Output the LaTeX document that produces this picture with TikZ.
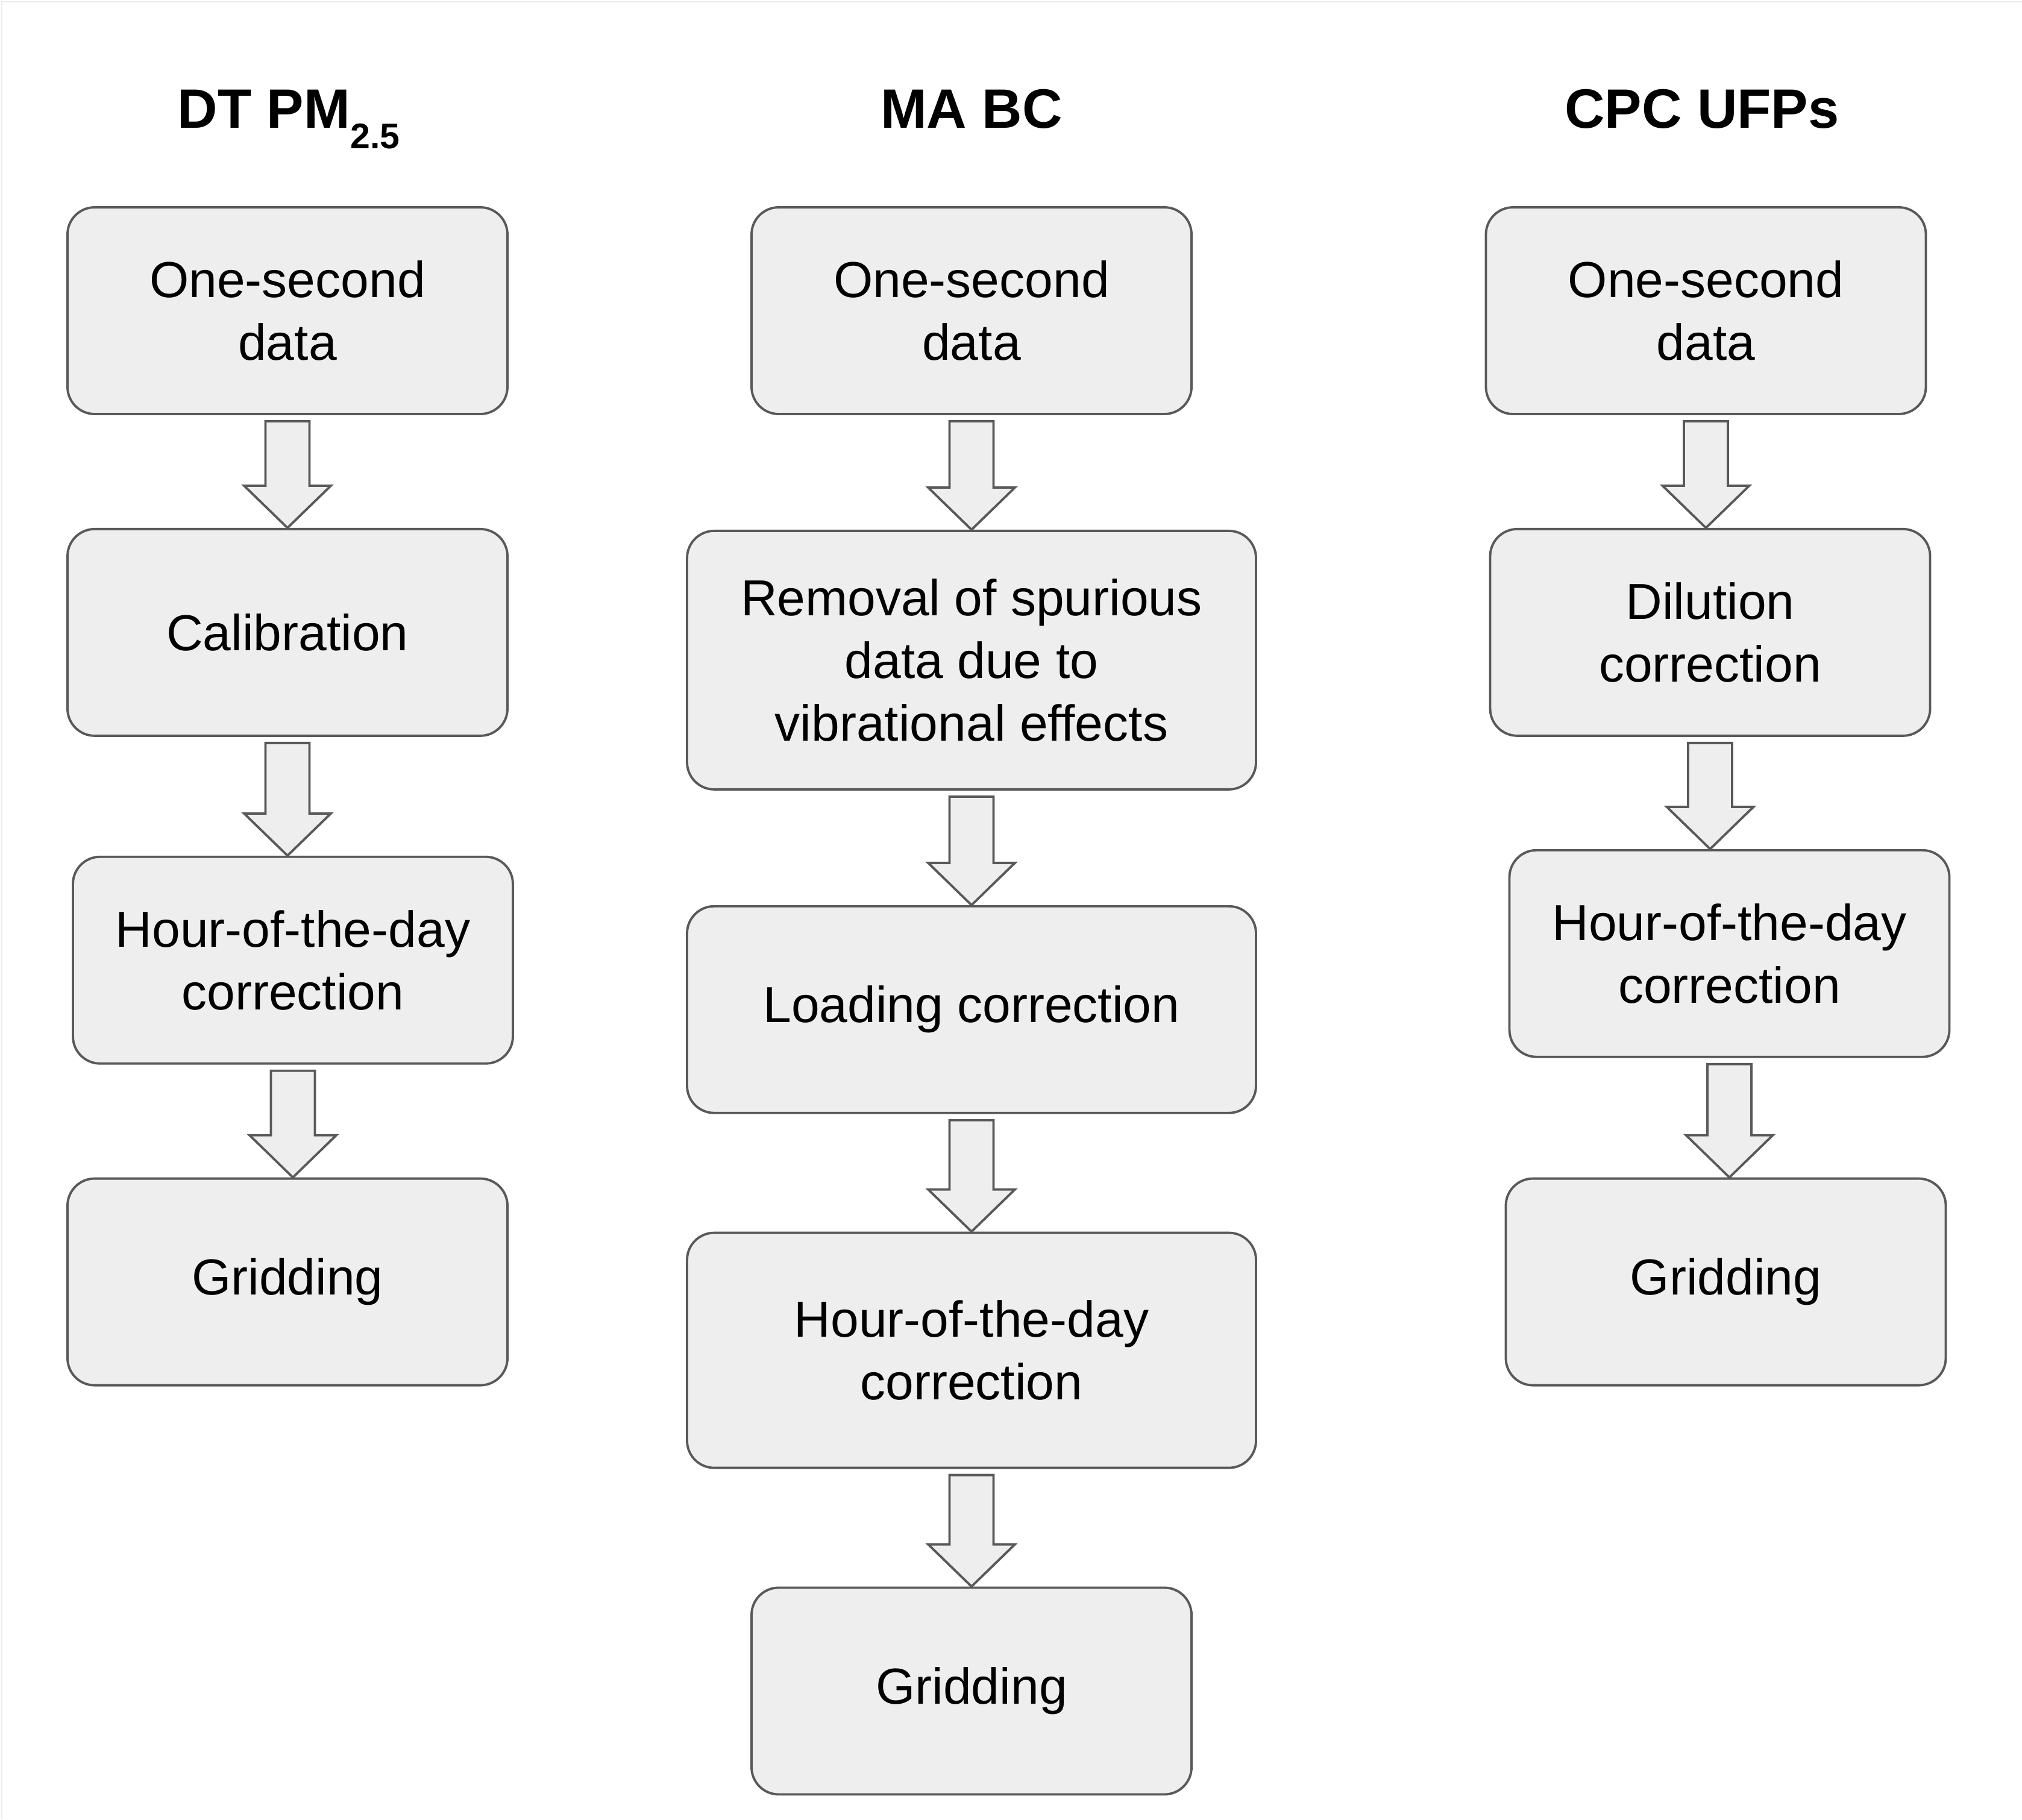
\documentclass[tikz,border=0pt]{standalone}
\usepackage{fontspec}
\setmainfont{Liberation Sans}
\usetikzlibrary{positioning,calc}
\definecolor{boxgray}{HTML}{EEEEEE}
\definecolor{linegray}{HTML}{595959}

\begin{document}
\begin{tikzpicture}[
stage/.style={rectangle,rounded corners=4.5mm,draw=linegray,fill=boxgray,line width=1.1pt,
  minimum width=7.3cm,minimum height=3.43cm,align=center,
  font=\fontsize{23.9}{29.6}\selectfont},
wide/.style={minimum width=9.44cm},
heading/.style={anchor=base,font=\bfseries\fontsize{26.2}{30}\selectfont},
flow/.style={draw=linegray,fill=boxgray,line width=1.1pt,
  to path={let \p1=(\tikztostart.south), \p2=(\tikztotarget.north) in
    (\x1-3.65mm,\y1-1mm) -- (\x1+3.65mm,\y1-1mm) -- (\x1+3.65mm,\y2+7mm)
    -- (\x1+7.2mm,\y2+7mm) -- (\x1,\y2) -- (\x1-7.2mm,\y2+7mm)
    -- (\x1-3.65mm,\y2+7mm) -- cycle}},
]
\useasboundingbox (0,0) rectangle (33.55,-30.19);
\draw[black!8,line width=0.6pt] (0.03,-30.19) -- (0.03,-0.03) -- (33.55,-0.03);

% headings
\node[heading] (tpm) at (4.79,-2.12) {DT PM\raisebox{-9.7pt}{\fontsize{16.8}{18}\selectfont 2.5}};
\node[heading] (tbc) at (16.12,-2.12) {MA BC};
\node[heading] (tufp) at (28.24,-2.12) {CPC UFPs};

% DT PM2.5
\node[stage] (a1) at (4.77,-5.155) {One-second\\data};
\node[stage,below=1.87cm of a1] (a2) {Calibration};
\node[stage,below=1.97cm of a2,xshift=0.09cm] (a3) {Hour-of-the-day\\correction};
\node[stage,below=1.87cm of a3,xshift=-0.09cm] (a4) {Gridding};

% MA BC
\node[stage] (b1) at (16.12,-5.155) {One-second\\data};
\node[stage,wide,minimum height=4.29cm,below=1.9cm of b1] (b2) {Removal of spurious\\data due to\\vibrational effects};
\node[stage,wide,below=1.9cm of b2] (b3) {Loading correction};
\node[stage,wide,minimum height=3.9cm,below=1.95cm of b3] (b4) {Hour-of-the-day\\correction};
\node[stage,below=1.95cm of b4] (b5) {Gridding};

% CPC UFPs
\node[stage] (c1) at (28.305,-5.155) {One-second\\data};
\node[stage,below=1.87cm of c1,xshift=0.07cm] (c2) {Dilution\\correction};
\node[stage,below=1.86cm of c2,xshift=0.32cm] (c3) {Hour-of-the-day\\correction};
\node[stage,below=1.98cm of c3,xshift=-0.06cm] (c4) {Gridding};

\draw[flow] (a1) to (a2);
\draw[flow] (a2) to (a3);
\draw[flow] (a3) to (a4);
\draw[flow] (b1) to (b2);
\draw[flow] (b2) to (b3);
\draw[flow] (b3) to (b4);
\draw[flow] (b4) to (b5);
\draw[flow,xshift=-0.07cm] (c1) to (c2);
\draw[flow,xshift=-0.08cm] (c2) to (c3);
\draw[flow,xshift=-0.24cm] (c3) to (c4);
\end{tikzpicture}
\end{document}
